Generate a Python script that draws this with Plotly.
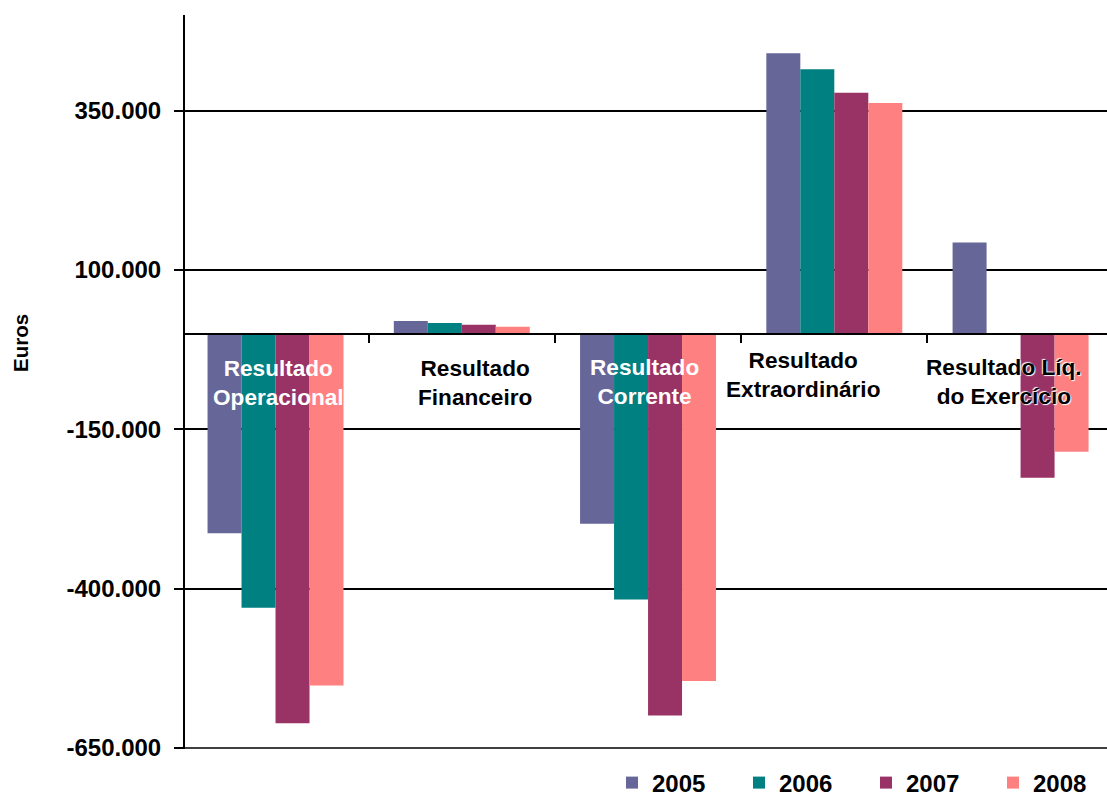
import plotly.graph_objects as go

# Income statement results by year (euros)
categorias = [
    "Resultado Operacional",
    "Resultado Financeiro",
    "Resultado Corrente",
    "Resultado Extraordinário",
    "Resultado Líq. do Exercício",
]
anos = ["2005", "2006", "2007", "2008"]
valores_2005 = [-313000, 20000, -298000, 440000, 143000]
valores_2006 = [-430000, 17000, -417000, 415000, -1500]
valores_2007 = [-611000, 14000, -599000, 378000, -226000]
valores_2008 = [-552000, 11000, -545000, 362000, -185000]
cores = ["#666699", "#008080", "#993366", "#FF8080"]

# Category captions shown beside the zero line
rotulos = [
    "Resultado<br>Operacional",
    "Resultado<br>Financeiro",
    "Resultado<br>Corrente",
    "Resultado<br>Extraordinário",
    "Resultado Líq.<br>do Exercício",
]
cores_rotulos = ["white", "black", "white", "black", "black"]
desloc_x = [3, 13, -4, -31, -17]
desloc_y = [-49, -49, -48, -41, -48]

y_ticks = [-650000, -400000, -150000, 100000, 350000]
y_ticktext = [f"{v:,}".replace(",", ".") for v in y_ticks]
y_min, y_max = -651500, 500000

FONT = "Liberation Sans, Arial, sans-serif"

fig = go.Figure()
for ano, vals, cor in zip(anos, [valores_2005, valores_2006, valores_2007, valores_2008], cores):
    fig.add_trace(go.Bar(name=ano, x=categorias, y=vals, marker=dict(color=cor, line=dict(width=0))))

for cat, txt, cor, dx, dy in zip(categorias, rotulos, cores_rotulos, desloc_x, desloc_y):
    fig.add_annotation(
        x=cat, y=0, xref="x", yref="y", text=f"<b>{txt}</b>", showarrow=False,
        xshift=dx, yshift=dy, yanchor="middle", xanchor="center", align="center",
        font=dict(family=FONT, size=22.6, color=cor,
                  shadow="none" if cor == "white" else "1px 1px 1px white, -1px -1px 1px white"),
    )

fig.add_annotation(
    x=(20 - 185) / 922, y=(749 - 343) / 734, xref="paper", yref="paper",
    xanchor="center", yanchor="middle",
    text="<b>Euros</b>", textangle=-90, showarrow=False,
    font=dict(family=FONT, size=20.5, color="black"),
)

# Lowest gridline sits on the plot's bottom edge, so draw it explicitly
fig.add_shape(
    type="line", xref="paper", yref="y", x0=0, x1=1, y0=y_ticks[0], y1=y_ticks[0],
    line=dict(color="black", width=1.5), layer="below",
)

fig.update_layout(
    width=1107, height=797,
    margin=dict(l=185, r=0, t=15, b=48, autoexpand=False),
    paper_bgcolor="white", plot_bgcolor="white",
    barmode="group", bargap=0.27, bargroupgap=0,
    font=dict(family=FONT, color="black"),
    showlegend=True,
    legend=dict(
        orientation="h", x=(612 - 185) / 922, xanchor="left", y=(749 - 783) / 734, yanchor="middle",
        font=dict(family=FONT, size=24, color="black", weight="bold"),
        entrywidth=82, entrywidthmode="pixels", bgcolor="rgba(0,0,0,0)", borderwidth=0,
    ),
    xaxis=dict(
        range=[-0.486, 4.464], showgrid=False, showticklabels=False,
        showline=True, linecolor="black", linewidth=2,
        ticks="outside", tickson="boundaries", ticklen=8, tickwidth=2, tickcolor="black",
        anchor="free", position=(0 - y_min) / (y_max - y_min),
    ),
    yaxis=dict(
        range=[y_min, y_max], tickvals=y_ticks, ticktext=y_ticktext,
        showgrid=True, gridcolor="black", gridwidth=1.5,
        zeroline=True, zerolinecolor="black", zerolinewidth=2,
        showline=True, linecolor="black", linewidth=2,
        ticks="outside", ticklen=9, tickwidth=2, tickcolor="black",
        tickfont=dict(family=FONT, size=24, color="black", weight="bold"),
        ticklabelstandoff=8,
    ),
)

fig.write_html("out.html")
